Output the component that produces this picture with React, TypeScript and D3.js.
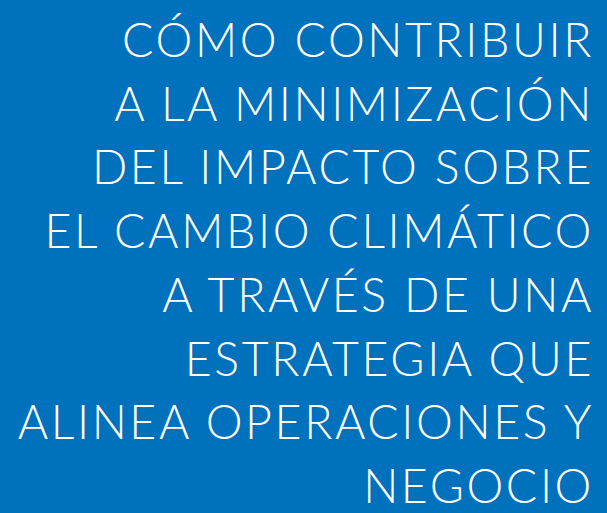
import { useEffect, useRef } from "react";
import * as d3 from "d3";

const lines = [
  "CÓMO CONTRIBUIR",
  "A LA MINIMIZACIÓN",
  "DEL IMPACTO SOBRE",
  "EL CAMBIO CLIMÁTICO",
  "A TRAVÉS DE UNA",
  "ESTRATEGIA QUE",
  "ALINEA OPERACIONES Y",
  "NEGOCIO",
];

const W = 607;
const H = 513;

export default function App() {
  const ref = useRef<SVGSVGElement>(null);

  useEffect(() => {
    const svg = d3.select(ref.current);
    svg.selectAll("*").remove();

    svg.append("rect").attr("width", W).attr("height", H).attr("fill", "#0071bc");

    const y = d3
      .scalePoint<number>()
      .domain(d3.range(lines.length))
      .range([57, 503]);

    svg
      .selectAll("text.line")
      .data(lines)
      .join("text")
      .attr("class", "line")
      .attr("x", 594)
      .attr("y", (_, i) => y(i)!)
      .attr("text-anchor", "end")
      .attr("fill", "#fff")
      .attr("font-family", "Lato, 'Open Sans', sans-serif")
      .attr("font-weight", 300)
      .attr("font-size", 46.5)
      .attr("letter-spacing", 2.6)
      .text((d) => d);
  }, []);

  return (
    <svg
      ref={ref}
      width={W}
      height={H}
      style={{ position: "absolute", left: 0, top: 0, display: "block" }}
    />
  );
}
